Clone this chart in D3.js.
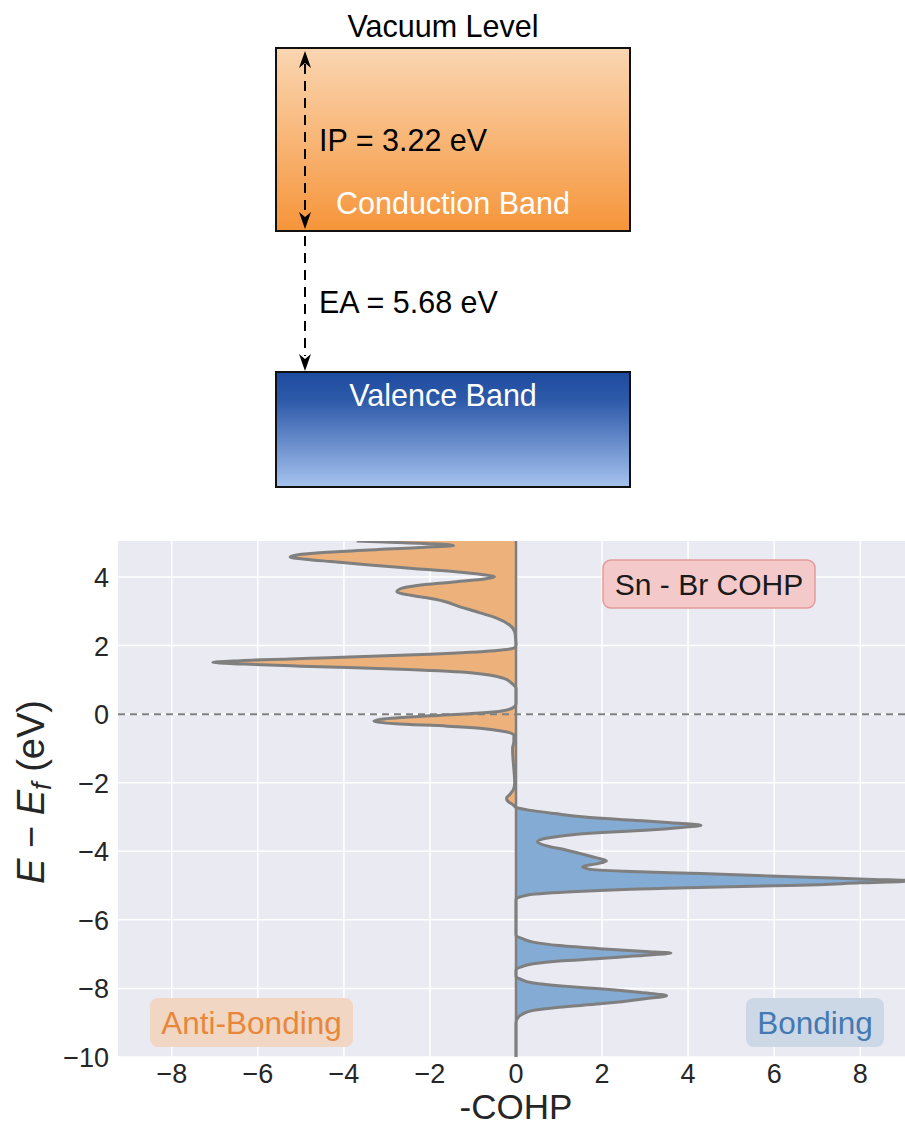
<!DOCTYPE html>
<html>
<head>
<meta charset="utf-8">
<script src="https://cdn.jsdelivr.net/npm/d3@7"></script>
<style>
  body { margin: 0; background: #fff; }
  text { font-family: "Liberation Sans", Arial, sans-serif; }
</style>
</head>
<body>
<div id="chart"></div>
<script>
const width = 905;
const height = 1128;

// Band diagram values
const ipLabel = "IP = 3.22 eV";
const eaLabel = "EA = 5.68 eV";

// COHP curve: energy (eV) and -COHP value, read from top to bottom
const energy = [5.05, 5.0, 4.95, 4.92, 4.88, 4.8, 4.72, 4.64, 4.58, 4.52, 4.45, 4.35, 4.25, 4.15, 4.07, 4.01, 3.95, 3.85, 3.75, 3.65, 3.57, 3.5, 3.4, 3.3, 3.13, 3.0, 2.8, 2.6, 2.4, 2.2, 2.0,
  1.93, 1.85, 1.75, 1.65, 1.56, 1.51, 1.46, 1.4, 1.3, 1.2, 1.05, 0.9, 0.75, 0.3, 0.2, 0.1, 0.03, -0.05, -0.12, -0.2, -0.28, -0.35, -0.41, -0.5, -0.6,
  -0.8, -1.0, -1.3, -1.6, -2.0, -2.2, -2.35, -2.45, -2.55, -2.65, -2.72, -2.8, -2.9, -3.0, -3.1, -3.17, -3.24, -3.3, -3.39, -3.46, -3.53, -3.62, -3.72,
  -3.82, -3.97, -4.1, -4.2, -4.28, -4.36, -4.45, -4.52, -4.58, -4.65, -4.75, -4.82, -4.86, -4.92, -4.99, -5.08, -5.19, -5.28, -5.4, -6.45,
  -6.55, -6.65, -6.75, -6.84, -6.92, -6.97, -7.03, -7.13, -7.2, -7.28, -7.38, -7.47, -7.65, -7.72, -7.84, -7.94, -8.01, -8.12, -8.21, -8.3, -8.45,
  -8.55, -8.64, -8.75, -8.84, -9.0, -10.0];
const cohp = [-3.7, -2.6, -1.6, -1.45, -1.9, -3.2, -4.4, -5.1, -5.25, -4.9, -4.3, -3.4, -2.4, -1.4, -0.8, -0.5, -0.7, -1.5, -2.3, -2.7, -2.77, -2.6, -2.1, -1.7, -1.3, -0.95, -0.45, -0.15, -0.03, -0.01, 0,
  -0.05, -0.5, -2.0, -4.2, -6.4, -7.05, -6.3, -5.0, -2.5, -1.0, -0.3, -0.1, 0, 0, -0.05, -0.3, -0.84, -2.0, -2.9, -3.3, -2.8, -1.6, -0.84, -0.3, -0.05,
  -0.05, -0.08, -0.07, -0.05, -0.03, -0.06, -0.15, -0.22, -0.18, -0.06, 0, 0.3, 0.9, 1.6, 2.8, 3.6, 4.3, 3.9, 3.0, 1.9, 1.2, 0.7, 0.5,
  0.65, 1.18, 1.6, 1.9, 2.1, 1.9, 1.55, 1.7, 2.5, 4.3, 6.6, 8.3, 9.2, 8.0, 6.6, 3.5, 1.18, 0.25, 0, 0,
  0.15, 0.4, 1.0, 1.95, 3.0, 3.6, 3.0, 1.95, 1.0, 0.4, 0.1, 0, 0, 0.09, 0.4, 1.2, 1.95, 2.9, 3.5, 3.0, 1.95,
  1.0, 0.4, 0.15, 0.05, 0, 0];

const xTicks = [-8, -6, -4, -2, 0, 2, 4, 6, 8];
const yTicks = [-10, -8, -6, -4, -2, 0, 2, 4];

const svg = d3.select("#chart")
  .append("svg")
  .attr("width", width)
  .attr("height", height);

const defs = svg.append("defs");

const cbGrad = defs.append("linearGradient")
  .attr("id", "cbGrad").attr("x1", 0).attr("y1", 0).attr("x2", 0).attr("y2", 1);
cbGrad.append("stop").attr("offset", "0%").attr("stop-color", "#fad6b2");
cbGrad.append("stop").attr("offset", "100%").attr("stop-color", "#f6953a");

const vbGrad = defs.append("linearGradient")
  .attr("id", "vbGrad").attr("x1", 0).attr("y1", 0).attr("x2", 0).attr("y2", 1);
vbGrad.append("stop").attr("offset", "0%").attr("stop-color", "#1d4b9f");
vbGrad.append("stop").attr("offset", "25%").attr("stop-color", "#2e5aa9");
vbGrad.append("stop").attr("offset", "100%").attr("stop-color", "#a7c3ef");

/*----------------------------- */
// Band diagram
const diagram = svg.append("g");
const bandFont = 30.5;

diagram.append("text")
  .text("Vacuum Level")
  .attr("x", 443).attr("y", 37)
  .attr("text-anchor", "middle")
  .attr("font-size", bandFont);

diagram.append("rect")
  .attr("x", 276).attr("y", 48).attr("width", 354).attr("height", 183)
  .attr("fill", "url(#cbGrad)")
  .attr("stroke", "#111").attr("stroke-width", 2);

diagram.append("rect")
  .attr("x", 276).attr("y", 372).attr("width", 354).attr("height", 115)
  .attr("fill", "url(#vbGrad)")
  .attr("stroke", "#111").attr("stroke-width", 2);

const arrowX = 305;
diagram.append("line")
  .attr("x1", arrowX).attr("x2", arrowX).attr("y1", 64).attr("y2", 216)
  .attr("stroke", "#000").attr("stroke-width", 2).attr("stroke-dasharray", "10,7");
diagram.append("line")
  .attr("x1", arrowX).attr("x2", arrowX).attr("y1", 236).attr("y2", 356)
  .attr("stroke", "#000").attr("stroke-width", 2).attr("stroke-dasharray", "10,7");

// arrow heads (up, down, down)
const head = (tipY, dir) => `M${arrowX},${tipY} L${arrowX - 6},${tipY - dir * 17} L${arrowX},${tipY - dir * 12} L${arrowX + 6},${tipY - dir * 17} Z`;
diagram.selectAll("path.head")
  .data([[51, -1], [229, 1], [371, 1]])
  .join("path")
    .attr("class", "head")
    .attr("d", d => head(d[0], d[1]))
    .attr("fill", "#000");

diagram.append("text").text(ipLabel)
  .attr("x", 319).attr("y", 151).attr("font-size", bandFont);

diagram.append("text").text("Conduction Band")
  .attr("x", 453).attr("y", 214).attr("text-anchor", "middle")
  .attr("font-size", bandFont).attr("fill", "#fff");

diagram.append("text").text(eaLabel)
  .attr("x", 319).attr("y", 313).attr("font-size", bandFont);

diagram.append("text").text("Valence Band")
  .attr("x", 443).attr("y", 406).attr("text-anchor", "middle")
  .attr("font-size", bandFont).attr("fill", "#fff");

/*----------------------------- */
// COHP plot
const plot = { left: 118, top: 541, right: 914, bottom: 1057 };

const xScale = d3.scaleLinear()
  .domain([-9.25, 9.25])
  .range([plot.left, plot.right]);

const yScale = d3.scaleLinear()
  .domain([-10, 5.05])
  .range([plot.bottom, plot.top]);

defs.append("clipPath").attr("id", "plotClip")
  .append("rect")
  .attr("x", plot.left).attr("y", plot.top)
  .attr("width", plot.right - plot.left).attr("height", plot.bottom - plot.top);

defs.append("clipPath").attr("id", "negClip")
  .append("rect")
  .attr("x", plot.left).attr("y", plot.top)
  .attr("width", xScale(0) - plot.left).attr("height", plot.bottom - plot.top);

defs.append("clipPath").attr("id", "posClip")
  .append("rect")
  .attr("x", xScale(0)).attr("y", plot.top)
  .attr("width", plot.right - xScale(0)).attr("height", plot.bottom - plot.top);

svg.append("rect")
  .attr("x", plot.left).attr("y", plot.top)
  .attr("width", plot.right - plot.left).attr("height", plot.bottom - plot.top)
  .attr("fill", "#eaeaf2");

// Gridlines
svg.append("g")
  .selectAll("line.vgrid")
  .data(xTicks)
  .join("line")
    .attr("x1", d => xScale(d)).attr("x2", d => xScale(d))
    .attr("y1", plot.top).attr("y2", plot.bottom)
    .attr("stroke", "#fff").attr("stroke-width", 1.5);

svg.append("g")
  .selectAll("line.hgrid")
  .data(yTicks)
  .join("line")
    .attr("x1", plot.left).attr("x2", plot.right)
    .attr("y1", d => yScale(d)).attr("y2", d => yScale(d))
    .attr("stroke", "#fff").attr("stroke-width", 1.5);

const points = energy.map((e, i) => ({ e, v: cohp[i] }));

const area = d3.area()
  .y(d => yScale(d.e))
  .x0(xScale(0))
  .x1(d => xScale(d.v))
  .curve(d3.curveMonotoneY);

const line = d3.line()
  .x(d => xScale(d.v))
  .y(d => yScale(d.e))
  .curve(d3.curveMonotoneY);

const curveG = svg.append("g").attr("clip-path", "url(#plotClip)");

curveG.append("g").attr("clip-path", "url(#negClip)")
  .append("path")
    .attr("d", area(points))
    .attr("fill", "#edb27b");

curveG.append("g").attr("clip-path", "url(#posClip)")
  .append("path")
    .attr("d", area(points))
    .attr("fill", "#83abd3");

curveG.append("line")
  .attr("x1", plot.left).attr("x2", plot.right)
  .attr("y1", yScale(0)).attr("y2", yScale(0))
  .attr("stroke", "#808080").attr("stroke-width", 2)
  .attr("stroke-dasharray", "7,5");

// zero line along x = 0
curveG.append("line")
  .attr("x1", xScale(0)).attr("x2", xScale(0))
  .attr("y1", plot.top).attr("y2", plot.bottom)
  .attr("stroke", "#7f7f7f").attr("stroke-width", 2.5);

curveG.append("path")
  .attr("d", line(points))
  .attr("fill", "none")
  .attr("stroke", "#7f7f7f")
  .attr("stroke-width", 3)
  .attr("stroke-linejoin", "round");

// Tick labels
const fmtTick = d => d < 0 ? "\u2212" + Math.abs(d) : String(d);

svg.append("g")
  .selectAll("text")
  .data(xTicks)
  .join("text")
    .text(fmtTick)
    .attr("x", d => xScale(d))
    .attr("y", 1083)
    .attr("text-anchor", "middle")
    .attr("font-size", 27)
    .attr("fill", "#262626");

svg.append("g")
  .selectAll("text")
  .data(yTicks)
  .join("text")
    .text(fmtTick)
    .attr("x", 109)
    .attr("y", d => yScale(d) + 10)
    .attr("text-anchor", "end")
    .attr("font-size", 27)
    .attr("fill", "#262626");

svg.append("text")
  .text("-COHP")
  .attr("x", xScale(0))
  .attr("y", 1119)
  .attr("text-anchor", "middle")
  .attr("font-size", 35)
  .attr("fill", "#262626");

const yLabel = svg.append("text")
  .attr("transform", "translate(44, 792) rotate(-90)")
  .attr("text-anchor", "middle")
  .attr("font-size", 38)
  .attr("fill", "#262626");
yLabel.append("tspan").text("E").attr("font-style", "italic");
yLabel.append("tspan").text(" \u2212 ");
yLabel.append("tspan").text("E").attr("font-style", "italic");
yLabel.append("tspan").text("f").attr("font-style", "italic").attr("font-size", 27).attr("dy", 7);
yLabel.append("tspan").text(" (eV)").attr("dy", -7);

// Annotation boxes
const boxes = [
  { label: "Sn - Br COHP", size: 30, x: 603, y: 560, w: 212, h: 48, fill: "#f4c9c9", stroke: "#e39a9a", color: "#1a1a1a" },
  { label: "Anti-Bonding", size: 31.5, x: 150, y: 998, w: 203, h: 49, fill: "#f0d6c3", stroke: "none", color: "#e8863a" },
  { label: "Bonding", size: 31.5, x: 746, y: 998, w: 138, h: 49, fill: "#cdd8e6", stroke: "none", color: "#4479b3" }
];

const boxG = svg.selectAll("g.box")
  .data(boxes)
  .join("g")
    .attr("class", "box");

boxG.append("rect")
  .attr("x", d => d.x).attr("y", d => d.y)
  .attr("width", d => d.w).attr("height", d => d.h)
  .attr("rx", 8).attr("ry", 8)
  .attr("fill", d => d.fill)
  .attr("stroke", d => d.stroke)
  .attr("stroke-width", 1.5);

boxG.append("text")
  .text(d => d.label)
  .attr("x", d => d.x + d.w / 2)
  .attr("y", d => d.y + d.h / 2 + 11)
  .attr("text-anchor", "middle")
  .attr("font-size", d => d.size)
  .attr("fill", d => d.color);
</script>
</body>
</html>
